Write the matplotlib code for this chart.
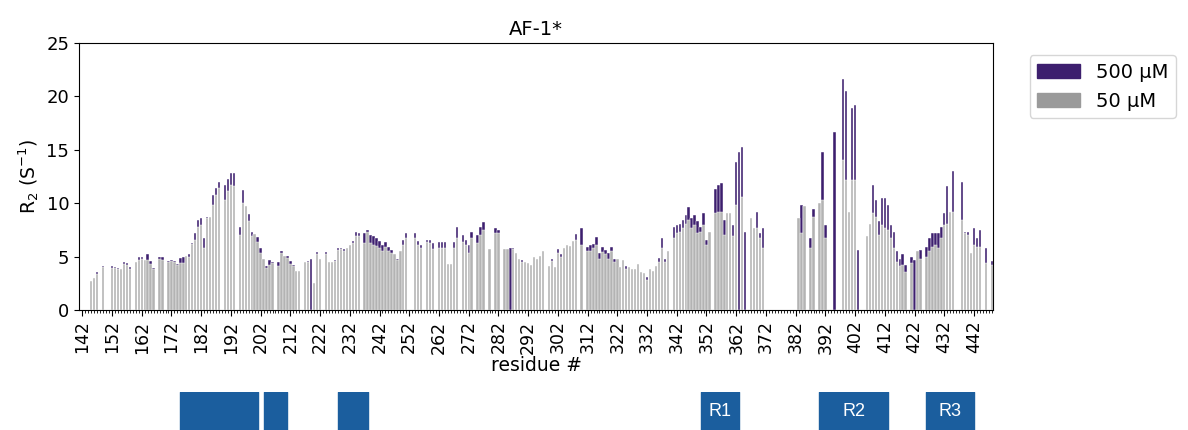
import numpy as np
import matplotlib
matplotlib.use('Agg')
import matplotlib.pyplot as plt
from matplotlib.patches import Patch

n = np.nan

# residues 142..448
residues = np.arange(142, 449)

# R2 at 50 uM (gray)
r2_50 = [
    n, n, n, 2.7, 3.0, 3.4, n, 4.0, n, n,            # 142-151
    3.9, 3.9, 3.8, 3.8, 4.3, 4.2, 3.8, n, 4.5, 4.7,  # 152-161
    4.8, 4.7, 4.7, 4.3, 3.8, n, 4.8, 4.7, n, 4.5,    # 162-171
    4.6, 4.5, 4.2, 4.4, 4.4, 5.1, 5.0, 6.2, 6.6, 7.8,  # 172-181
    8.0, 5.8, 8.6, 8.7, 9.8, 10.8, 11.4, n, 10.3, 11.1,  # 182-191
    11.7, 11.6, n, 7.0, 10.0, 9.7, 8.3, 6.9, 7.1, 6.4,  # 192-201
    5.3, 4.8, 3.9, 4.2, 4.4, n, 4.1, 5.3, 5.1, 4.9,  # 202-211
    4.3, 4.1, 3.7, 3.7, n, 4.5, 4.5, n, 2.5, 5.2,    # 212-221
    4.8, n, 5.2, 4.5, 4.5, 4.6, 5.6, 5.7, 5.5, 5.8,  # 222-231
    6.1, 6.3, 6.9, 6.9, n, 6.3, 7.3, 6.3, 6.1, 6.0,  # 232-241
    5.8, 5.5, 5.9, 5.5, 5.3, 5.2, 4.7, 5.5, 6.1, 6.7,  # 242-251
    n, n, 6.7, 6.1, 5.8, n, 6.4, 6.3, 5.7, n,        # 252-261
    5.8, 5.8, 5.8, 4.3, 4.3, 5.8, 6.7, n, 6.4, 6.1,  # 262-271
    5.3, 6.7, n, 6.3, 7.0, 7.5, n, 5.7, n, 7.2,      # 272-281
    7.2, n, 5.7, 5.7, n, 5.7, 5.3, 4.8, 4.5, 4.5,    # 282-291
    4.4, 4.2, 5.0, 4.8, 5.1, 5.5, n, 4.1, 4.6, 4.0,  # 292-301
    5.3, 5.0, 5.8, 6.1, 6.0, 6.5, 6.6, n, 6.1, n,    # 302-311
    5.5, 5.5, 5.8, 6.1, 4.8, 5.4, 5.2, 4.8, 5.5, 4.5,  # 312-321
    4.8, 4.0, 4.7, 3.8, 4.0, 3.8, 3.8, 4.3, 3.6, 3.5,  # 322-331
    2.8, 3.8, 3.7, 4.1, 4.5, 5.8, 4.5, 5.5, n, 6.7,  # 332-341
    7.2, 7.3, 7.7, 8.1, 8.4, 7.7, 8.0, 7.2, 7.3, 8.0,  # 342-351
    6.1, 7.3, n, 9.1, 9.2, 9.2, 7.0, 9.1, 9.1, 6.9,  # 352-361
    9.8, n, 10.6, n, n, 8.6, 7.7, 7.7, 6.7, 5.8,     # 362-371
    n, n, n, n, n, n, n, n, n, n,                    # 372-381
    n, 8.6, 7.2, 9.7, n, 5.8, 8.7, n, 10.0, 10.3,    # 382-391
    6.7, n, n, n, n, n, 14.0, 12.2, 9.2, 12.2,       # 392-401
    12.2, n, n, n, 6.9, 8.1, 9.1, 8.7, 7.0, 8.0,     # 402-411
    7.7, 7.5, 6.7, 5.8, 4.5, 4.1, 4.2, 3.6, n, 4.4,  # 412-421
    n, 5.5, 4.8, n, 5.0, 5.5, 5.9, 6.1, 5.8, 6.7,    # 422-431
    8.0, 8.1, 9.2, 9.2, n, n, 8.4, 7.2, 7.0, 5.3,    # 432-441
    6.1, 5.9, 5.9, n, 4.4, n, 4.2,                   # 442-448
]

# R2 at 500 uM (purple)
r2_500 = [
    n, n, n, 2.7, 3.0, 3.6, n, 4.1, n, n,
    4.1, 4.0, 3.9, 3.8, 4.5, 4.4, 4.0, n, 4.5, 5.0,
    5.0, 4.7, 5.2, 4.6, 3.9, n, 5.0, 5.0, n, 4.6,
    4.7, 4.6, 4.3, 4.9, 5.0, 5.1, 5.2, 6.3, 7.2, 8.4,
    8.6, 6.7, 8.7, 8.7, 10.8, 11.4, 12.0, n, 11.7, 12.3,
    12.8, 12.8, n, 7.8, 11.2, 9.7, 9.0, 7.3, 7.1, 6.8,
    5.8, 4.8, 4.1, 4.7, 4.5, n, 4.5, 5.5, 5.1, 5.1,
    4.6, 4.2, 3.7, 3.7, n, 4.5, 4.6, 4.8, 2.5, 5.4,
    4.8, n, 5.4, 4.5, 4.5, 4.7, 5.8, 5.8, 5.7, 5.8,
    6.1, 6.5, 7.3, 7.2, n, 7.2, 7.5, 7.0, 6.9, 6.7,
    6.5, 6.1, 6.4, 5.9, 5.6, 5.2, 4.8, 5.5, 6.6, 7.2,
    n, n, 7.2, 6.5, 6.1, n, 6.6, 6.6, 6.3, n,
    6.4, 6.4, 6.4, 4.3, 4.3, 6.4, 7.8, n, 7.0, 6.6,
    6.1, 7.3, n, 7.0, 7.8, 8.2, n, 5.7, n, 7.7,
    7.5, n, 5.7, 5.7, 5.8, 5.8, 5.3, 4.8, 4.7, 4.5,
    4.4, 4.2, 5.0, 4.8, 5.1, 5.5, n, 4.1, 4.8, 4.0,
    5.7, 5.2, 5.8, 6.1, 6.0, 6.5, 7.1, n, 7.7, n,
    5.9, 6.1, 6.2, 6.8, 5.3, 5.9, 5.6, 5.3, 5.9, 4.8,
    4.8, 4.0, 4.7, 4.1, 4.0, 3.8, 3.8, 4.3, 3.6, 3.5,
    3.1, 3.8, 3.7, 4.1, 4.9, 6.7, 4.8, 5.5, n, 7.8,
    8.0, 8.1, 8.4, 8.9, 9.6, 8.6, 8.9, 8.3, 7.8, 9.1,
    6.6, 7.3, n, 11.3, 11.7, 11.9, 8.4, 9.1, 9.1, 8.0,
    13.9, 14.8, 15.3, 7.3, n, 8.6, 7.7, 9.2, 7.2, 7.7,
    n, n, n, n, n, n, n, n, n, n,
    n, 8.6, 9.8, 9.7, n, 6.7, 9.5, n, 10.0, 14.8,
    8.0, n, n, 16.7, n, n, 21.6, 20.5, 9.2, 18.9,
    19.2, 5.6, n, n, 6.9, 8.1, 11.7, 10.3, 8.3, 10.5,
    10.5, 9.8, 8.0, 7.3, 5.5, 4.8, 5.2, 4.2, n, 5.0,
    4.7, 5.5, 5.6, n, 5.9, 6.7, 7.2, 7.2, 7.2, 7.8,
    9.1, 11.6, 9.2, 13.0, n, n, 12.0, 7.3, 7.3, 5.3,
    7.7, 6.7, 7.5, n, 5.8, n, 4.6,
]

# domains drawn below the axis
dom_start = [175, 203, 228, 350, 390, 426]
dom_end = [201, 211, 238, 363, 413, 442]
dom_label = ['', '', '', 'R1', 'R2', 'R3']

purple = '#3d1f6e'
gray = '#9a9a9a'
bar_gray = '#b3b3b3'
blue = '#1b5e9e'

fig = plt.figure(figsize=(11.88, 4.30), dpi=100)
ax = fig.add_axes([0.0665, 0.279, 0.7694, 0.621])

ax.bar(residues, r2_500, width=0.8, color=purple, edgecolor='white', linewidth=0.3)
ax.bar(residues, r2_50, width=0.8, color=bar_gray, edgecolor='white', linewidth=0.3)

ax.set_xlim(140.9, 448.4)
ax.set_ylim(0, 25)
ax.set_xticks(np.arange(142, 443, 10))
ax.set_xticklabels([str(v) for v in range(142, 443, 10)], rotation=90, fontsize=12.5)
ax.set_xticks(residues, minor=True)
ax.tick_params(axis='x', which='minor', length=2)
ax.tick_params(axis='x', which='major', length=4)
ax.set_yticks(np.arange(0, 26, 5))
ax.tick_params(axis='y', labelsize=13)

ax.set_title('AF-1*', fontsize=14)
ax.set_xlabel('residue #', fontsize=13.5, labelpad=2)
ax.set_ylabel(r'R$_2$ (S$^{-1}$)', fontsize=13.5)

handles = [Patch(color=purple, label='500 µM'), Patch(color=gray, label='50 µM')]
ax.legend(handles=handles, loc='upper left', bbox_to_anchor=(1.04, 0.955),
          borderaxespad=0, fontsize=14, handlelength=2.2)

# domain boxes
ax2 = fig.add_axes([0.0665, 0.0, 0.7694, 38 / 430])
ax2.set_xlim(ax.get_xlim())
ax2.set_ylim(0, 1)
for s, e, lab in zip(dom_start, dom_end, dom_label):
    ax2.broken_barh([(s, e - s)], (0, 1), color=blue)
    if lab:
        ax2.text((s + e) / 2, 0.5, lab, color='white', ha='center', va='center',
                 fontsize=13, family='Liberation Sans')
ax2.axis('off')

fig.savefig('out.png', dpi=100)
